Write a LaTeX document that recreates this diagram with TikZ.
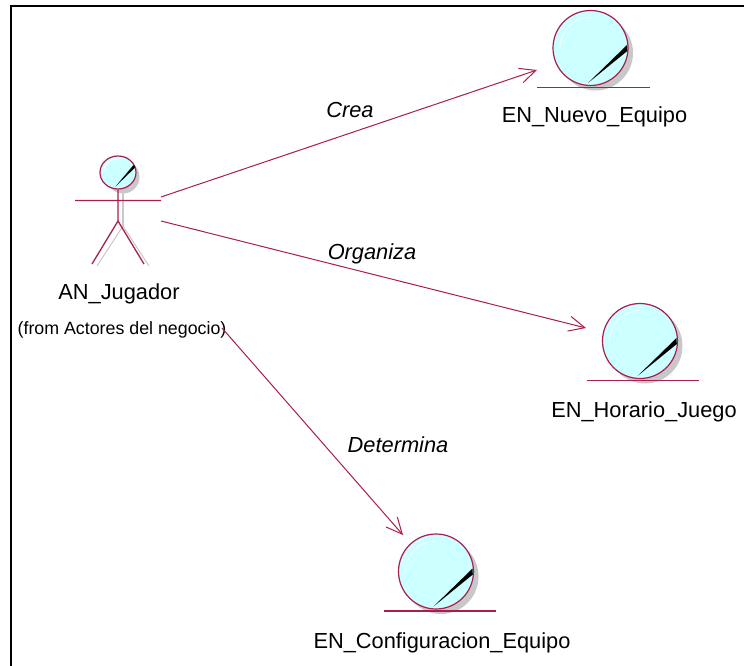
\documentclass[tikz,border=0pt]{standalone}
\usepackage{fontspec}
\setmainfont{Liberation Sans}
\usetikzlibrary{arrows.meta,shapes.geometric}
\definecolor{rose}{HTML}{A81E50}
\definecolor{fillc}{HTML}{CCFFFF}
\definecolor{shad}{HTML}{C8C8C8}
\tikzset{
 x=1pt,y=-1pt,
 ball/.style={circle,draw=rose,line width=1.2pt,fill=fillc,inner sep=0pt,minimum size=75pt},
 ballshadow/.style={circle,fill=shad,inner sep=0pt,minimum size=75pt},
 lbl/.style={font=\fontsize{21.8}{26}\selectfont,inner sep=0pt,anchor=base},
 small/.style={font=\fontsize{17.8}{20}\selectfont,inner sep=0pt,anchor=base},
 rel/.style={font=\fontsize{21.8}{26}\selectfont\itshape,inner sep=0pt,anchor=base},
 link/.style={draw=rose,line width=1pt,-{Straight Barb[length=16pt,width=15pt,line width=1pt]}},
 rosel/.style={draw=rose,line width=1.3pt},
}
\newcommand{\entity}[5]{% name, cx, cy, x-left, x-right of base
 \node[ballshadow] at (#2+5,#3+5) {};
 \node[ball] (#1) at (#2,#3) {};
 \draw[white,line width=0.7pt] (#2-30.5,#3) arc[start angle=180,end angle=90,x radius=30.5,y radius=-30.5];
 \fill[black] (#2-2.5,#3+35) -- (#2+36.5,#3-3) -- (#2+36.8,#3+3) -- cycle;
 \coordinate (#1l) at (#4,#3+39.5);
 \coordinate (#1r) at (#5,#3+39.5);
 \draw[rosel] (#1l) -- (#1r);
}
\begin{document}
\begin{tikzpicture}
\useasboundingbox (0,0) rectangle (744,666);
\fill[white] (0,0) rectangle (744,666);
\coordinate (fb) at (11,666);
\coordinate (fc) at (11,6);
\coordinate (fr) at (744,6);
\draw[black,line width=2pt,line join=miter] (fb) -- (fc) -- (fr);
% actor shadow
\node[circle,fill=shad,minimum size=33pt,inner sep=0pt] at (123,177) {};
\draw[shad,line width=1pt] (123,226) -- (97,266) (123,226) -- (149,266);
\draw[shad,line width=2pt] (123,190) -- (123,226);
% actor
\node[ellipse,draw=rose,line width=1.2pt,fill=fillc,inner sep=0pt,minimum width=36pt,minimum height=33pt] (head) at (118,172.5) {};
\draw[white,line width=0.7pt] (103.5,172) arc[start angle=180,end angle=90,x radius=14,y radius=-13];
\fill[black] (115.5,186.5) -- (133.5,165) -- (135.2,167.5) -- cycle;
\coordinate (armL) at (75,200.5);
\coordinate (armR) at (161,200.5);
\coordinate (hip) at (118,221);
\coordinate (legL) at (92,264);
\coordinate (legR) at (144,264);
\draw[rosel] (head.south) -- (hip) (armL) -- (armR) (hip) -- (legL) (hip) -- (legR);
\node[lbl] (actorname) at (119,299) {AN\_Jugador};
\node[small] (actorfrom) at (122,334) {(from Actores del negocio)};
% entities
\entity{e1}{590.5}{48}{537}{650}
\entity{e2}{640}{341}{586.5}{699}
\entity{e3}{436}{571.5}{383.5}{496}
\node[lbl] (n1) at (594.5,123) {EN\_Nuevo\_Equipo};
\node[lbl] (n2) at (644,417) {EN\_Horario\_Juego};
\node[lbl] (n3) at (442,648) {EN\_Configuracion\_Equipo};
% links
\coordinate (s1) at (161,197);
\coordinate (s2) at (161,221);
\coordinate (s3) at (222,328);
\coordinate (t1) at (537,70);
\coordinate (t2) at (586,328);
\coordinate (t3) at (403,535);
\draw[link] (s1) -- (t1);
\draw[link] (s2) -- (t2);
\draw[link] (s3) -- (t3);
\node[rel] (r1) at (350,118) {Crea};
\node[rel] (r2) at (372,259) {Organiza};
\node[rel] (r3) at (398,452) {Determina};
\end{tikzpicture}
\end{document}
